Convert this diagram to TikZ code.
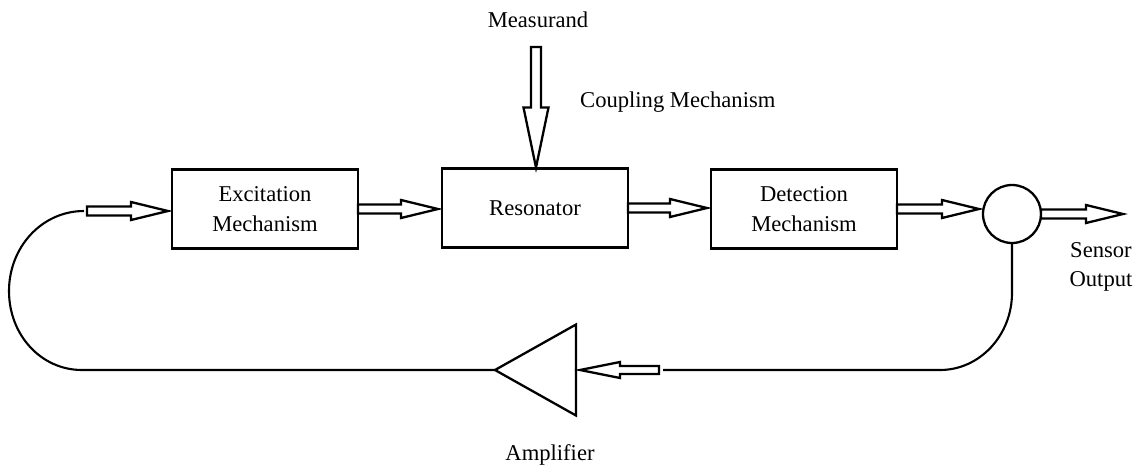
\documentclass[tikz,border=0pt]{standalone}
\usepackage{fontspec}
\setmainfont{Liberation Serif}
\usetikzlibrary{shapes.geometric,calc}
\newcommand{\lblfont}{\fontsize{22.6}{30}\selectfont}
\tikzset{
  blk/.style={draw, line width=2.8pt, minimum width=186pt, minimum height=79pt, inner sep=0pt, outer sep=0pt, align=center, font=\lblfont},
  lbl/.style={align=center, font=\lblfont, inner sep=0pt},
  hollow/.style={draw, line width=2.3pt, fill=white, line join=miter},
  wire/.style={draw, line width=2.1pt},
}
% rightward hollow arrow from #1 to #2 (tip 4pt before #2)
\newcommand{\harr}[2]{\path[hollow] let \p1=(#1), \p2=(#2) in
  (\x1,\y1+4.5pt) -- (\x2-41pt,\y1+4.5pt) -- (\x2-41pt,\y1+9pt) -- (\x2-4pt,\y1)
  -- (\x2-41pt,\y1-9pt) -- (\x2-41pt,\y1-4.5pt) -- (\x1,\y1-4.5pt) -- cycle;}
% leftward hollow arrow from #1 to #2
\newcommand{\larr}[2]{\path[hollow] let \p1=(#1), \p2=(#2) in
  (\x1,\y1+4pt) -- (\x2+44pt,\y1+4pt) -- (\x2+44pt,\y1+8pt) -- (\x2+4pt,\y1)
  -- (\x2+44pt,\y1-8pt) -- (\x2+44pt,\y1-4pt) -- (\x1,\y1-4pt) -- cycle;}
% downward hollow arrow from #1 to #2
\newcommand{\varr}[2]{\path[hollow] let \p1=(#1), \p2=(#2) in
  (\x1-5pt,\y1) -- (\x1-5pt,\y2+61pt) -- (\x1-12.5pt,\y2+61pt) -- (\x1,\y2+1pt)
  -- (\x1+12.5pt,\y2+61pt) -- (\x1+5pt,\y2+61pt) -- (\x1+5pt,\y1) -- cycle;}
\begin{document}
\begin{tikzpicture}[x=1pt,y=-1pt]
\useasboundingbox (0,0) rectangle (1144,467);
% blocks
\node[blk] (exc) at (265,209) {Excitation\\Mechanism};
\node[blk] (res) at (535,208) {Resonator};
\node[blk] (det) at (804,209) {Detection\\Mechanism};
\node[draw, circle, line width=2.3pt, minimum size=58pt, inner sep=0pt, outer sep=0pt] (sum) at (1012,214) {};
\node[isosceles triangle, isosceles triangle stretches, shape border rotate=180,
      draw, line width=2.3pt, minimum height=81pt, minimum width=91pt,
      inner sep=0pt, outer sep=0pt, anchor=apex] (amp) at (495,370) {};
% labels
\node[lbl] (meas) at (538,20) {Measurand};
\node[lbl, anchor=west] (coup) at (580,102) {Coupling Mechanism};
\node[lbl, font=\fontsize{22.6}{29}\selectfont] (sout) at (1101,267) {Sensor\\Output};
\node[lbl] (ampl) at (550,455) {Amplifier};
% free ends
\coordinate (in1) at (87,211);
\coordinate (loopend) at (84,211);
\coordinate (meastop) at (536,47);
\coordinate (outend) at (1127,210);
\coordinate (fbend) at (663,370);
\coordinate (fbarr) at (659,370);
% feedback wires
\draw[wire] (sum.south) -- (1012,293) .. controls (1012,335) and (980,370) .. (940,370) -- (fbend);
\draw[wire] (amp.apex) -- (82,370) .. controls (41,370) and (9,335) .. (9,291)
  .. controls (9,247) and (42,211) .. (loopend);
% hollow arrows
\harr{in1}{exc.west}
\harr{exc.east}{res.west}
\harr{res.east}{det.west}
\harr{det.east}{sum.west}
\harr{sum.east}{outend}
\larr{fbarr}{amp.lower side}
\varr{meastop}{res.north}
\end{tikzpicture}
\end{document}
